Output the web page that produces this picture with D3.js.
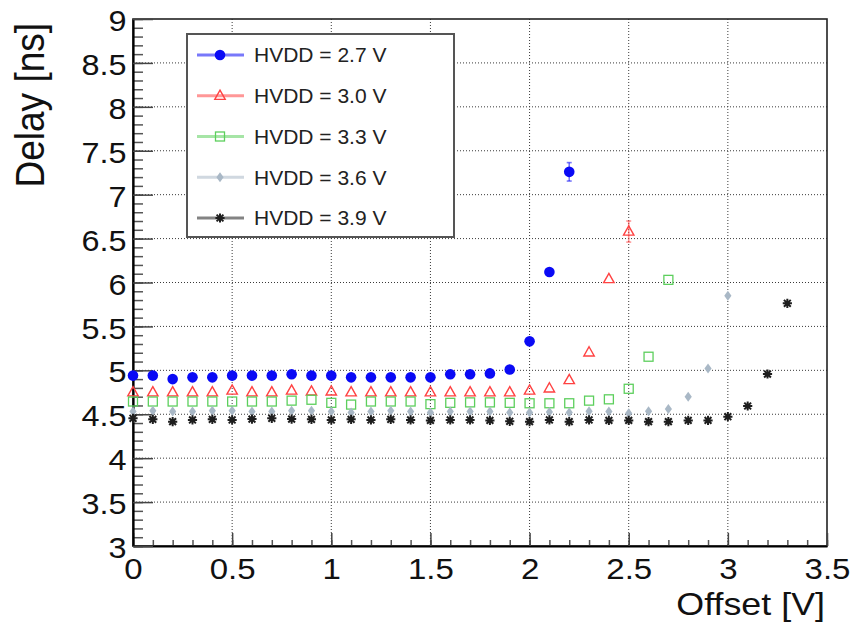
<!DOCTYPE html>
<html>
<head>
<meta charset="utf-8">
<script src="https://cdn.jsdelivr.net/npm/d3@7"></script>
<style>
  html, body { margin: 0; padding: 0; background: #fff; }
  svg { display: block; font-family: "Liberation Sans", Arial, Helvetica, sans-serif; }
</style>
</head>
<body>
<svg id="chart" width="856" height="634"></svg>
<script>
// Offset scan points (V) for each supply voltage
const offsets27 = [0,0.1,0.2,0.3,0.4,0.5,0.6,0.7,0.8,0.9,1.0,1.1,1.2,1.3,1.4,1.5,1.6,1.7,1.8,1.9,2.0,2.1,2.2];
const offsets30 = [0,0.1,0.2,0.3,0.4,0.5,0.6,0.7,0.8,0.9,1.0,1.1,1.2,1.3,1.4,1.5,1.6,1.7,1.8,1.9,2.0,2.1,2.2,2.3,2.4,2.5];
const offsets33 = [0,0.1,0.2,0.3,0.4,0.5,0.6,0.7,0.8,0.9,1.0,1.1,1.2,1.3,1.4,1.5,1.6,1.7,1.8,1.9,2.0,2.1,2.2,2.3,2.4,2.5,2.6,2.7];
const offsets36 = [0,0.1,0.2,0.3,0.4,0.5,0.6,0.7,0.8,0.9,1.0,1.1,1.2,1.3,1.4,1.5,1.6,1.7,1.8,1.9,2.0,2.1,2.2,2.3,2.4,2.5,2.6,2.7,2.8,2.9,3.0];
const offsets39 = [0,0.1,0.2,0.3,0.4,0.5,0.6,0.7,0.8,0.9,1.0,1.1,1.2,1.3,1.4,1.5,1.6,1.7,1.8,1.9,2.0,2.1,2.2,2.3,2.4,2.5,2.6,2.7,2.8,2.9,3.0,3.1,3.2,3.3];

// Measured delay (ns)
const delay27 = [4.94,4.94,4.90,4.92,4.92,4.94,4.94,4.94,4.955,4.94,4.94,4.92,4.92,4.92,4.92,4.92,4.955,4.955,4.965,5.01,5.33,6.12,7.26];
const delay30 = [4.75,4.75,4.75,4.75,4.75,4.77,4.75,4.75,4.77,4.76,4.76,4.75,4.75,4.75,4.75,4.75,4.75,4.75,4.75,4.75,4.77,4.795,4.89,5.205,6.04,6.58];
const delay33 = [4.645,4.645,4.645,4.645,4.645,4.645,4.645,4.645,4.655,4.665,4.63,4.61,4.645,4.645,4.645,4.615,4.63,4.635,4.635,4.63,4.625,4.625,4.625,4.655,4.67,4.79,5.155,6.03];
const delay36 = [4.53,4.54,4.53,4.53,4.54,4.54,4.53,4.53,4.54,4.54,4.53,4.52,4.53,4.54,4.53,4.52,4.53,4.53,4.53,4.52,4.52,4.525,4.52,4.535,4.53,4.51,4.535,4.56,4.70,5.02,5.85];
const delay39 = [4.454,4.442,4.416,4.435,4.442,4.435,4.445,4.454,4.445,4.442,4.435,4.442,4.435,4.442,4.435,4.43,4.435,4.435,4.43,4.42,4.416,4.435,4.416,4.435,4.43,4.43,4.416,4.416,4.43,4.43,4.472,4.594,4.958,5.763];

// Visible statistical errors: [offset, error]
const errors27 = [[2.2, 0.105]];
const errors30 = [[2.5, 0.12]];

const seriesLabels = ["HVDD = 2.7 V", "HVDD = 3.0 V", "HVDD = 3.3 V", "HVDD = 3.6 V", "HVDD = 3.9 V"];

const xTicks = [0, 0.5, 1, 1.5, 2, 2.5, 3, 3.5];
const yTicks = [3, 3.5, 4, 4.5, 5, 5.5, 6, 6.5, 7, 7.5, 8, 8.5, 9];
const xTitle = "Offset [V]";
const yTitle = "Delay [ns]";

const series = [
  { label: seriesLabels[0], x: offsets27, y: delay27, err: errors27, color: "#0a0af5", marker: "circle" },
  { label: seriesLabels[1], x: offsets30, y: delay30, err: errors30, color: "#ff4242", marker: "triangle" },
  { label: seriesLabels[2], x: offsets33, y: delay33, err: [], color: "#5dcf5d", marker: "square" },
  { label: seriesLabels[3], x: offsets36, y: delay36, err: [], color: "#a9b8c6", marker: "diamond" },
  { label: seriesLabels[4], x: offsets39, y: delay39, err: [], color: "#1e1e1e", marker: "star" }
];

const svg = d3.select("#chart");
const frame = { left: 133, right: 827, top: 19, bottom: 546 };
const fontFamily = "'Liberation Sans', Arial, Helvetica, sans-serif";
const tickFmt = d => String(d);

const x = d3.scaleLinear().domain([0, 3.5]).range([frame.left, frame.right]);
const y = d3.scaleLinear().domain([3, 9]).range([frame.bottom, frame.top]);

// Dotted grid at the labelled divisions
const grid = svg.append("g").attr("stroke", "#3a3a3a").attr("stroke-width", 1).attr("stroke-dasharray", "1,2");
grid.selectAll("line.gx").data(xTicks.slice(1, -1)).join("line")
  .attr("x1", d => x(d)).attr("x2", d => x(d)).attr("y1", frame.top).attr("y2", frame.bottom);
grid.selectAll("line.gy").data(yTicks.slice(1, -1)).join("line")
  .attr("y1", d => y(d)).attr("y2", d => y(d)).attr("x1", frame.left).attr("x2", frame.right);

// Frame
svg.append("rect")
  .attr("x", frame.left).attr("y", frame.top)
  .attr("width", frame.right - frame.left).attr("height", frame.bottom - frame.top)
  .attr("fill", "none").attr("stroke", "#222").attr("stroke-width", 1.6);

// Minor ticks (every 0.1)
const minorX = d3.range(0, 36).map(i => i / 10);
const minorY = d3.range(30, 91).map(i => i / 10);

svg.append("g").attr("transform", `translate(0,${frame.bottom})`)
  .call(d3.axisBottom(x).tickValues(minorX).tickSize(-6).tickSizeOuter(0).tickFormat(""))
  .call(g => g.select(".domain").remove())
  .call(g => g.selectAll(".tick line").attr("stroke", "#555").attr("stroke-width", 1.5));

svg.append("g").attr("transform", `translate(${frame.left},0)`)
  .call(d3.axisLeft(y).tickValues(minorY).tickSize(-10).tickSizeOuter(0).tickFormat(""))
  .call(g => g.select(".domain").remove())
  .call(g => g.selectAll(".tick line").attr("stroke", "#555").attr("stroke-width", 1.5));

// Major ticks with labels
svg.append("g").attr("transform", `translate(0,${frame.bottom})`)
  .call(d3.axisBottom(x).tickValues(xTicks).tickFormat(tickFmt).tickSize(-13).tickSizeOuter(0).tickPadding(12))
  .call(g => g.select(".domain").attr("stroke", "#000").attr("stroke-width", 2.2))
  .call(g => g.selectAll(".tick line").attr("stroke", "#444").attr("stroke-width", 1.5))
  .call(g => g.selectAll(".tick text").attr("font-size", 30).attr("fill", "#111")
    .attr("font-family", fontFamily).attr("transform", "scale(1.1,1)"));

svg.append("g").attr("transform", `translate(${frame.left},0)`)
  .call(d3.axisLeft(y).tickValues(yTicks).tickFormat(tickFmt).tickSize(-20).tickSizeOuter(0).tickPadding(6))
  .call(g => g.select(".domain").attr("stroke", "#000").attr("stroke-width", 2.2))
  .call(g => g.selectAll(".tick line").attr("stroke", "#444").attr("stroke-width", 1.5))
  .call(g => g.selectAll(".tick text").attr("font-size", 30).attr("fill", "#111")
    .attr("font-family", fontFamily).attr("y", 2).attr("transform", "scale(1.08,1)"));

// Axis titles
svg.append("text")
  .attr("transform", `translate(825,615) scale(1.12,1)`)
  .attr("text-anchor", "end").attr("font-size", 32).attr("fill", "#111")
  .text(xTitle);

svg.append("text")
  .attr("transform", `translate(44,23) scale(1.12,1) rotate(-90)`)
  .attr("text-anchor", "end").attr("font-size", 37).attr("fill", "#111")
  .text(yTitle);

// Marker shapes
function drawMarker(sel, type, color) {
  if (type === "circle") {
    sel.append("circle").attr("r", 5.3).attr("fill", color);
  } else if (type === "triangle") {
    sel.append("path").attr("d", "M0,-5.6L5.2,3.6L-5.2,3.6Z")
      .attr("fill", "none").attr("stroke", color).attr("stroke-width", 1.4);
  } else if (type === "square") {
    sel.append("rect").attr("x", -4.5).attr("y", -4.5).attr("width", 9).attr("height", 9)
      .attr("fill", "none").attr("stroke", color).attr("stroke-width", 1.3);
  } else if (type === "diamond") {
    sel.append("path").attr("d", "M0,-5L3.6,0L0,5L-3.6,0Z").attr("fill", color);
  } else if (type === "star") {
    sel.append("path").attr("d", "M-4.6,0H4.6M0,-4.6V4.6M-3.4,-3.4L3.4,3.4M-3.4,3.4L3.4,-3.4")
      .attr("stroke", color).attr("stroke-width", 2).attr("fill", "none");
    sel.append("circle").attr("r", 1.8).attr("fill", color);
  }
}

// Data points and error bars
const plot = svg.append("g");
series.forEach(s => {
  const g = plot.append("g");
  g.selectAll("g.err").data(s.err).join("g")
    .attr("stroke", s.color).attr("stroke-opacity", 0.55).attr("stroke-width", 1.6)
    .each(function (d) {
      const e = d3.select(this);
      const v = s.y[s.x.indexOf(d[0])];
      const cx = x(d[0]);
      const top = y(v + d[1]);
      const bot = y(v - d[1]);
      e.append("line").attr("x1", cx).attr("x2", cx).attr("y1", top).attr("y2", bot);
      e.append("line").attr("x1", cx - 2.5).attr("x2", cx + 2.5).attr("y1", top).attr("y2", top);
      e.append("line").attr("x1", cx - 2.5).attr("x2", cx + 2.5).attr("y1", bot).attr("y2", bot);
    });
  const pts = s.x.map((v, i) => [v, s.y[i]]);
  g.selectAll("g.pt").data(pts).join("g")
    .attr("transform", d => `translate(${x(d[0])},${y(d[1])})`)
    .each(function () { drawMarker(d3.select(this), s.marker, s.color); });
});

// Legend
const legend = svg.append("g");
legend.append("rect")
  .attr("x", 187).attr("y", 34).attr("width", 267).attr("height", 203)
  .attr("fill", "#fff").attr("stroke", "#555").attr("stroke-width", 2);

const rowY = d3.scaleLinear().domain([0, 4]).range([55, 218]);
series.forEach((s, i) => {
  const row = legend.append("g").attr("transform", `translate(0,${rowY(i)})`);
  row.append("line").attr("x1", 197).attr("x2", 244).attr("y1", 0).attr("y2", 0)
    .attr("stroke", s.color).attr("stroke-opacity", 0.55).attr("stroke-width", 3);
  const m = row.append("g").attr("transform", "translate(220,0)");
  drawMarker(m, s.marker, s.color);
  row.append("text").attr("x", 254).attr("y", 0).attr("dy", "0.35em")
    .attr("font-size", 21).attr("fill", "#222").text(s.label);
});
</script>
</body>
</html>
